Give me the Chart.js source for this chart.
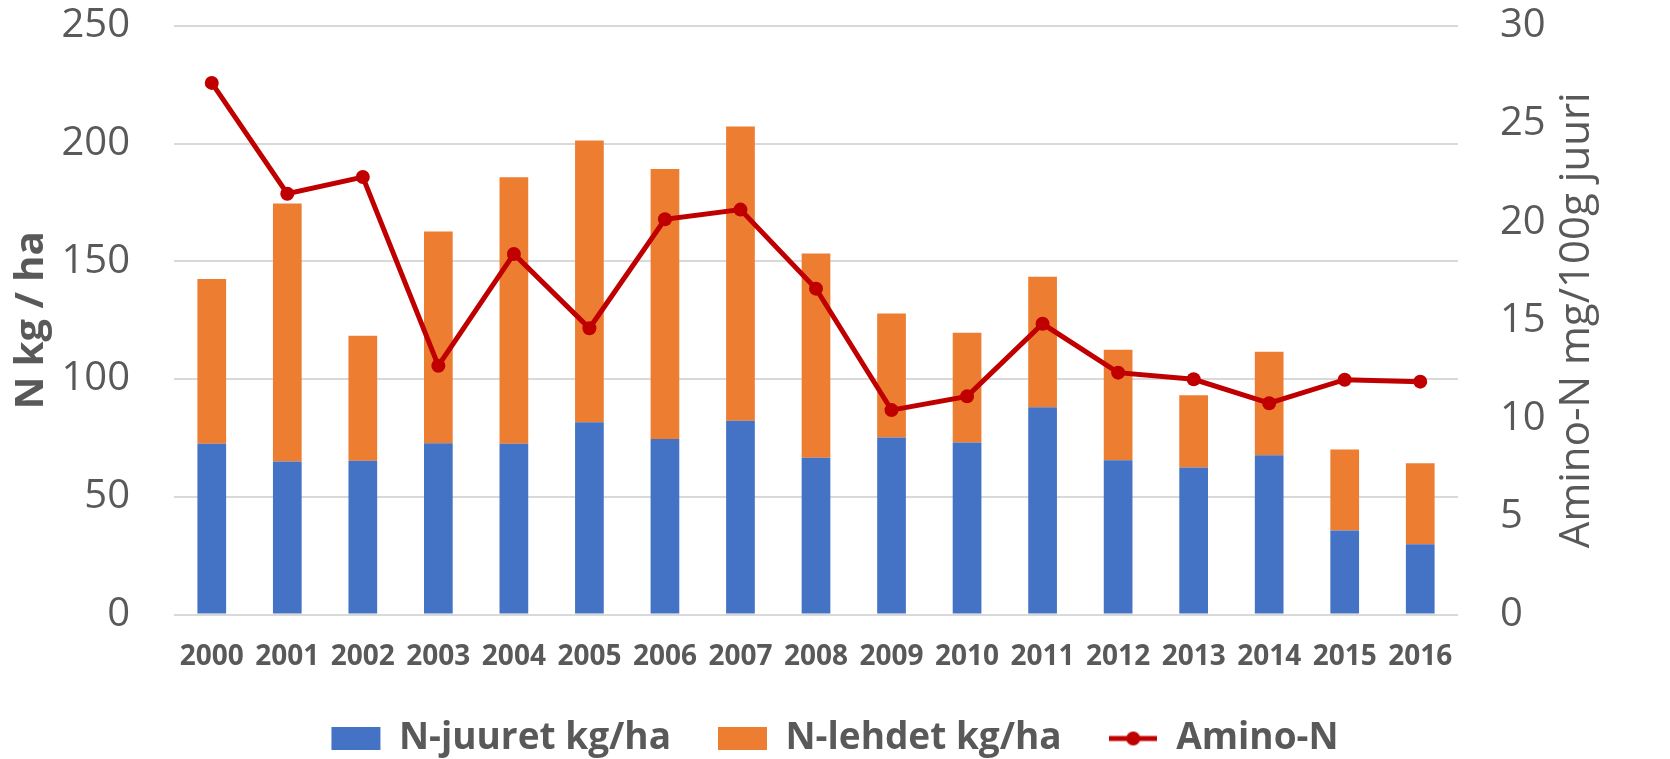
<!DOCTYPE html>
<html>
<head>
<meta charset="utf-8">
<script src="https://cdn.jsdelivr.net/npm/chart.js@4.4.1/dist/chart.umd.min.js"></script>
<style>
  html, body { margin: 0; padding: 0; background: #fff; }
</style>
</head>
<body>
<canvas id="mycanvas" width="1670" height="759"></canvas>
<script>
var years = ['2000', '2001', '2002', '2003', '2004', '2005', '2006', '2007', '2008',
             '2009', '2010', '2011', '2012', '2013', '2014', '2015', '2016'];
var juuret = [72.5, 65.0, 65.3, 72.8, 72.5, 81.7, 74.6, 82.3, 66.6, 75.2, 73.1, 88.0, 65.5, 62.5, 67.7, 35.7, 29.8];
var lehdet = [70.0, 109.6, 53.1, 89.9, 113.3, 119.7, 114.7, 125.0, 86.8, 52.7, 46.6, 55.5, 47.0, 30.6, 43.9, 34.4, 34.4];
var aminoN = [27.1, 21.45, 22.3, 12.68, 18.38, 14.59, 20.15, 20.64, 16.61, 10.42, 11.12, 14.82, 12.33, 11.99, 10.77, 11.97, 11.87];

var textColor = '#595959';
Chart.defaults.font.family = '"Open Sans", sans-serif';
Chart.defaults.color = textColor;

// legend symbol for the line series: a short line with a dot
var lineIcon = document.createElement('canvas');
lineIcon.width = 48;
lineIcon.height = 20;
(function() {
  var c = lineIcon.getContext('2d');
  c.strokeStyle = '#C00000';
  c.fillStyle = '#C00000';
  c.lineWidth = 5;
  c.beginPath();
  c.moveTo(0, 10);
  c.lineTo(48, 10);
  c.stroke();
  c.beginPath();
  c.arc(24, 10, 7, 0, Math.PI * 2);
  c.fill();
})();

// right axis title reads bottom-to-top like the left one
var rightTitle = {
  id: 'rightTitle',
  afterDraw: function(chart) {
    var ctx = chart.ctx;
    var a = chart.chartArea;
    ctx.save();
    ctx.translate(chart.width - 93, (a.top + a.bottom) / 2);
    ctx.rotate(-Math.PI / 2);
    ctx.font = '42px "Open Sans"';
    ctx.fillStyle = textColor;
    ctx.textAlign = 'center';
    ctx.textBaseline = 'middle';
    ctx.fillText('Amino-N mg/100g juuri', 0, 0);
    ctx.restore();
  }
};

var chartdata = {
  labels: years,
  datasets: [
    {
      type: 'bar',
      label: 'N-juuret kg/ha',
      data: juuret,
      backgroundColor: '#4472C4',
      stack: 'n',
      yAxisID: 'y',
      order: 1,
      categoryPercentage: 1,
      barPercentage: 0.38
    },
    {
      type: 'bar',
      label: 'N-lehdet kg/ha',
      data: lehdet,
      backgroundColor: '#ED7D31',
      stack: 'n',
      yAxisID: 'y',
      order: 1,
      categoryPercentage: 1,
      barPercentage: 0.38
    },
    {
      type: 'line',
      label: 'Amino-N',
      data: aminoN,
      borderColor: '#C00000',
      backgroundColor: '#C00000',
      borderWidth: 5,
      pointRadius: 7,
      pointHoverRadius: 7,
      pointBorderWidth: 0,
      yAxisID: 'y1',
      order: 0,
      tension: 0
    }
  ]
};

new Chart(document.getElementById('mycanvas'), {
  type: 'bar',
  data: chartdata,
  plugins: [rightTitle],
  options: {
    responsive: false,
    animation: false,
    layout: { padding: { top: 26, left: 0, right: 0, bottom: -8 } },
    plugins: {
      tooltip: { enabled: false },
      legend: {
        position: 'bottom',
        labels: {
          font: { size: 37, weight: 'bold' },
          color: textColor,
          usePointStyle: true,
          pointStyleWidth: 49,
          boxHeight: 23,
          padding: 47,
          sort: function(a, b) { return a.datasetIndex - b.datasetIndex; },
          generateLabels: function(chart) {
            var items = Chart.defaults.plugins.legend.labels.generateLabels(chart);
            items.forEach(function(it) {
              if (it.datasetIndex === 2) {
                it.pointStyle = lineIcon;
              } else {
                it.pointStyle = 'rect';
                it.lineWidth = 0;
              }
            });
            return items;
          }
        }
      }
    },
    scales: {
      x: {
        stacked: true,
        grid: { display: false, drawTicks: false },
        border: { display: false },
        ticks: { font: { size: 28, weight: 'bold' }, color: textColor, padding: 26 },
        afterFit: function(s) { s.height = 58.5; }
      },
      y: {
        position: 'left',
        stacked: true,
        min: 0,
        max: 250,
        ticks: { stepSize: 50, font: { size: 40 }, color: textColor, padding: 2 },
        grid: { color: '#D9D9D9', lineWidth: 2, drawTicks: true, tickLength: 42, tickColor: 'rgba(0,0,0,0)' },
        border: { display: false },
        title: {
          display: true,
          text: 'N kg / ha',
          font: { size: 40, weight: 'bold' },
          color: textColor,
          padding: { top: 8, bottom: 0 }
        },
        afterFit: function(s) { s.width = 174; }
      },
      y1: {
        position: 'right',
        min: 0,
        max: 30,
        ticks: { stepSize: 5, font: { size: 40 }, color: textColor, padding: 2 },
        grid: { display: false, drawTicks: true, tickLength: 40 },
        border: { display: false },
        afterFit: function(s) { s.width = 212; }
      }
    }
  }
});
</script>
</body>
</html>
